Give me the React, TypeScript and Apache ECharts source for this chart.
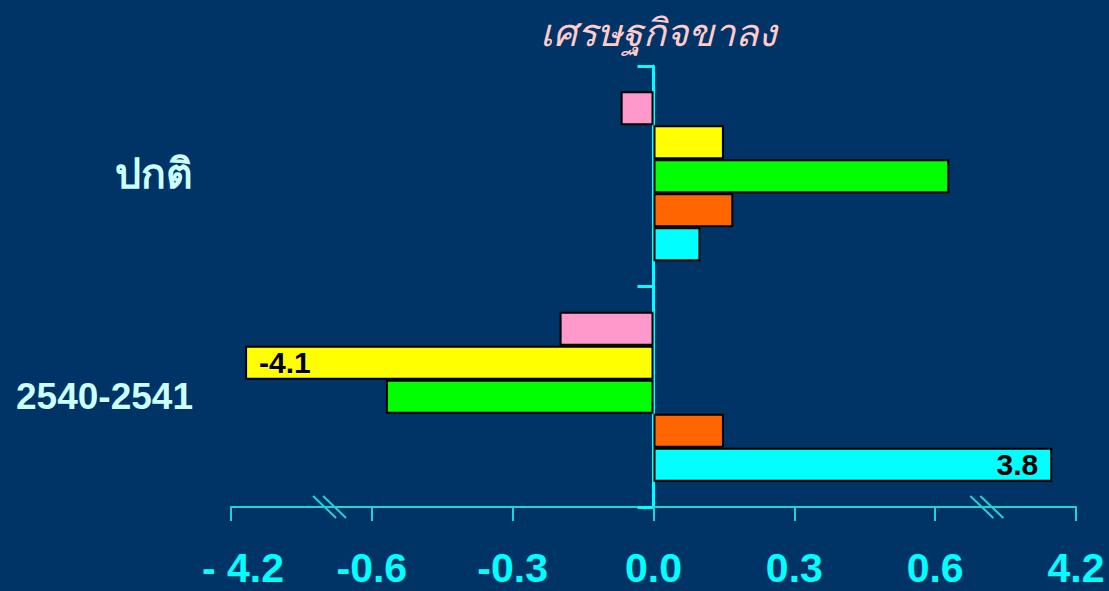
import React, { useEffect, useRef } from "react";
import * as echarts from "echarts";

// ---- data ----
const categories = ["ปกติ", "2540-2541"];
const tickLabels = ["- 4.2", "-0.6", "-0.3", "0.0", "0.3", "0.6", "4.2"];
const seriesNames = ["s1", "s2", "s3", "s4", "s5"];
const seriesColors = ["#FF99CC", "#FFFF00", "#00FF00", "#FF6600", "#00FFFF"];
const pinkValues = [-0.07, -0.2];
const yellowValues = [0.15, -4.1];
const greenValues = [0.63, -0.57];
const orangeValues = [0.17, 0.15];
const cyanValues = [0.1, 3.8];
const allValues = [pinkValues, yellowValues, greenValues, orangeValues, cyanValues];
const labelledValues = [-4.1, 3.8];
const title = "เศรษฐกิจขาลง";

// broken axis: value -> axis position (one unit per tick step of 0.3 in the
// unbroken middle part); each break collapses a value range to one point
const stepValue = 0.3;
const axisKnots: [number, number][] = [
  [-4.2, -3],
  [-3.5, -2.3],
  [-0.69, -0.69 / stepValue], // left break
  [0.71, 0.71 / stepValue], // right break
  [2.7, 0.71 / stepValue],
  [4.2, 3],
];
const breakPositions = [-0.69 / stepValue, 0.71 / stepValue];

function toAxisPos(v: number): number {
  for (let i = 0; i < axisKnots.length - 1; i++) {
    const [a, pa] = axisKnots[i];
    const [b, pb] = axisKnots[i + 1];
    if (v >= a && v <= b) return pa + ((v - a) / (b - a)) * (pb - pa);
  }
  return v < axisKnots[0][0] ? axisKnots[0][1] : axisKnots[axisKnots.length - 1][1];
}

export default function App() {
  const ref = useRef<HTMLDivElement>(null);
  useEffect(() => {
    document.body.style.margin = "0";
    const chart = echarts.init(ref.current!, null, { renderer: "svg" });
    const mid = (tickLabels.length - 1) / 2;
    const axisColor = "#22D3D3";
    chart.setOption({
      animation: false,
      backgroundColor: "#003366",
      title: {
        text: title,
        left: 653,
        textAlign: "center",
        top: 7,
        textStyle: {
          color: "#FFCCCC",
          fontSize: 38,
          fontStyle: "italic",
          fontWeight: "normal",
          fontFamily: "Noto Sans",
        },
      },
      grid: { left: 231, right: 33, top: 66, bottom: 84, containLabel: false },
      xAxis: {
        type: "value",
        min: -mid,
        max: mid,
        interval: 1,
        splitLine: { show: false },
        axisLine: { show: true, onZero: false, lineStyle: { color: axisColor, width: 2 } },
        axisTick: { show: true, length: 14, lineStyle: { color: axisColor, width: 2 } },
        axisLabel: {
          margin: 40,
          color: "#00FFFF",
          fontSize: 41,
          fontWeight: "bold",
          fontFamily: "Liberation Sans",
          formatter: (v: number) => {
            const i = Math.round(v + mid);
            const t = tickLabels[i] ?? "";
            return i === 0 ? `{f|${t}}` : t;
          },
          rich: {
            f: {
              color: "#00FFFF",
              fontSize: 41,
              fontWeight: "bold",
              fontFamily: "Liberation Sans",
              padding: [0, 0, 0, 24],
            },
          },
        },
      },
      yAxis: [
        {
          type: "category",
          data: categories,
          inverse: true,
          axisLine: { show: true, onZero: true, lineStyle: { color: "#00FFFF", width: 3 } },
          axisTick: { show: true, length: 16, lineStyle: { color: "#00FFFF", width: 3 } },
          axisLabel: { show: false },
          splitLine: { show: false },
        },
        {
          type: "category",
          data: categories,
          inverse: true,
          position: "left",
          axisLine: { show: false, onZero: false },
          axisTick: { show: false },
          splitLine: { show: false },
          axisLabel: {
            margin: 38,
            formatter: (v: string) => (v === categories[0] ? `{a|${v}}` : `{b|${v}}`),
            rich: {
              a: { color: "#CCFFFF", fontSize: 41, fontFamily: "Noto Sans", fontWeight: "bold", padding: [0, 0, 8, 0] },
              b: { color: "#CCFFFF", fontSize: 37, fontFamily: "Liberation Sans", fontWeight: "bold" },
            },
          },
        },
      ],
      series: seriesNames.map((name, si) => ({
        name,
        type: "bar",
        yAxisIndex: 0,
        barWidth: 34,
        barGap: "0%",
        itemStyle: { color: seriesColors[si], borderColor: "#000", borderWidth: 2 },
        data: allValues[si].map((v) => {
          const item: any = { value: toAxisPos(v) };
          if (labelledValues.includes(v)) {
            item.label = {
              show: true,
              position: v < 0 ? "insideLeft" : "insideRight",
              distance: 14,
              formatter: () => String(v),
              color: "#000",
              fontSize: 30,
              fontWeight: "bold",
              fontFamily: "Liberation Sans",
            };
          }
          return item;
        }),
      })),
    });
    const yAxisBottom = 591 - 84;
    const graphics: any[] = [];
    breakPositions.forEach((p) => {
      const cx = chart.convertToPixel({ xAxisIndex: 0 }, p) as number;
      [-5, 5].forEach((dx) => {
        graphics.push({
          type: "line",
          shape: { x1: cx + dx - 11.5, y1: yAxisBottom - 11, x2: cx + dx + 11.5, y2: yAxisBottom + 11 },
          style: { stroke: axisColor, lineWidth: 2 },
          z: 10,
        });
      });
    });
    chart.setOption({ graphic: graphics });
    return () => chart.dispose();
  }, []);
  return <div ref={ref} style={{ position: "fixed", left: 0, top: 0, width: 1109, height: 591 }} />;
}
